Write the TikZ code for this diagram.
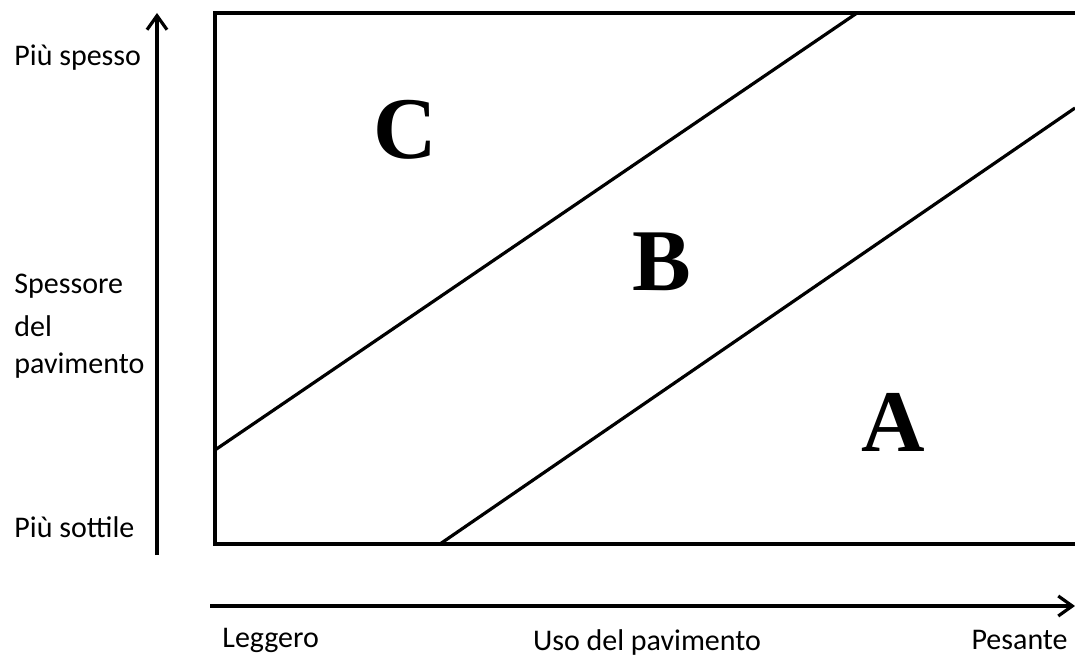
\documentclass[tikz,border=0pt]{standalone}
\usepackage{fontspec}
\setmainfont{Carlito}
\newfontfamily\serifbold{Liberation Serif}
\usetikzlibrary{arrows.meta}
\begin{document}
\begin{tikzpicture}[x=0.5pt,y=-0.5pt,
  lbl/.style={inner sep=0pt,font=\fontsize{15}{18}\selectfont},
  big/.style={inner sep=0pt,font=\serifbold\bfseries\fontsize{44}{50}\selectfont},
  frame/.style={line width=2pt},
  diag/.style={line width=1.6pt},
  axis/.style={line width=1.6pt,-{Straight Barb[length=7pt,width=10pt,line width=1.6pt]}}]
\useasboundingbox (0,0) rectangle (1075,657);
% frame
\coordinate (tl) at (215,13);
\coordinate (tr) at (1075,13);
\coordinate (bl) at (215,544);
\coordinate (br) at (1075,544);
\draw[frame] (tr) -- (tl) -- (bl) -- (br);
% diagonals
\coordinate (d1a) at (215,450);
\coordinate (d1b) at (857,13);
\coordinate (d2a) at (440,544);
\coordinate (d2b) at (1075,108);
\draw[diag] (d1a) -- (d1b);
\draw[diag] (d2a) -- (d2b);
% axes
\coordinate (ya) at (157,555);
\coordinate (yb) at (157,13);
\coordinate (xa) at (210,606);
\coordinate (xb) at (1075,606);
\draw[axis] (ya) -- (yb);
\draw[axis] (xa) -- (xb);
% labels
\node[lbl,anchor=west] (ps) at (14,58) {Più spesso};
\node[lbl,anchor=west] (sp1) at (14,286) {Spessore};
\node[lbl,anchor=west] (sp2) at (14,326) {del};
\node[lbl,anchor=west] (sp3) at (14,366) {pavimento};
\node[lbl,anchor=west] (pst) at (14,527) {Più sottile};
\node[lbl,anchor=west] (leg) at (222,640) {Leggero};
\node[lbl] (uso) at (647,642) {Uso del pavimento};
\node[lbl,anchor=east] (pes) at (1068,640) {Pesante};
\node[big] (C) at (405,130) {C};
\node[big] (B) at (662,262) {B};
\node[big] (A) at (893,422) {A};
\end{tikzpicture}
\end{document}
